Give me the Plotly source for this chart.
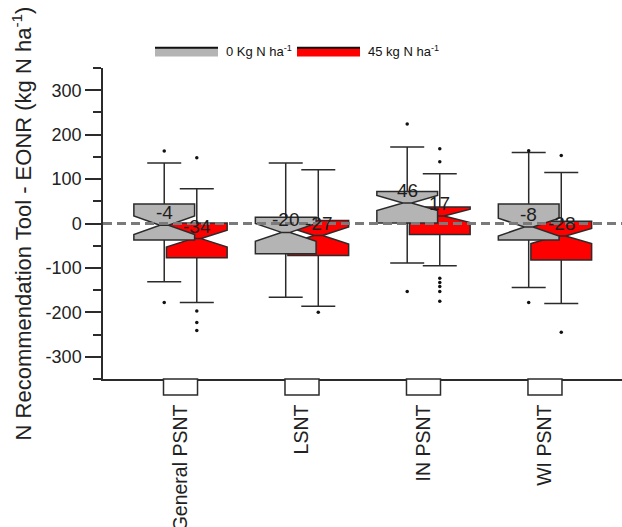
import plotly.graph_objects as go

# ---------------- data ----------------
categories = ["General PSNT", "LSNT", "IN PSNT", "WI PSNT"]
y_ticks = [-300, -200, -100, 0, 100, 200, 300]
y_ticktext = ["-300", "-200", "-100", "0", "100", "200", "300"]

# 0 kg N/ha series (gray)
q1_0 = [-37, -68, 1, -37]
med_0 = [-4, -20, 46, -8]
q3_0 = [44, 14, 72, 44]
low_0 = [-131, -166, -89, -144]
high_0 = [136, 136, 172, 160]
notch_0 = [21, 20, 17, 20]
out_0 = [[163, -178], [], [224, -153], [164, -178]]

# 45 kg N/ha series (red)
q1_45 = [-77, -72, -25, -82]
med_45 = [-34, -27, 17, -28]
q3_45 = [1, 7, 37, 5]
low_45 = [-178, -186, -95, -180]
high_45 = [78, 121, 112, 115]
notch_45 = [19, 19, 15, 17]
out_45 = [[148, -197, -223, -241], [-200], [168, 139, -123, -133, -142, -153, -175], [153, -245]]

name_0 = "0 Kg N ha<sup>-1</sup>"
name_45 = "45 kg N ha<sup>-1</sup>"

# ---------------- styling ----------------
FONT = "Liberation Sans, Arial, sans-serif"
GRAY = "#b4b4b4"
RED = "#ff0000"
EDGE = "#2b2b2b"
OFFSET = 0.134
BOX_W = 0.5

pos = list(range(1, len(categories) + 1))
x0 = [p - OFFSET for p in pos]
x45 = [p + OFFSET for p in pos]

fig = go.Figure()

def add_series(xs, q1, med, q3, lo, hi, notch, outs, color, name):
    fig.add_trace(go.Box(
        x=xs, q1=q1, median=med, q3=q3, lowerfence=lo, upperfence=hi,
        notchspan=notch, notched=True, notchwidth=0.43,
        width=BOX_W, whiskerwidth=0.56,
        fillcolor=color, line=dict(color=EDGE, width=1.5),
        boxpoints=False, name=name, showlegend=False, hoverinfo="skip",
    ))
    ox, oy = [], []
    for xv, vals in zip(xs, outs):
        for v in vals:
            ox.append(xv)
            oy.append(v)
    fig.add_trace(go.Scatter(
        x=ox, y=oy, mode="markers",
        marker=dict(color="#111111", size=3.5),
        showlegend=False, hoverinfo="skip",
    ))

# red drawn first, gray on top (as in reference)
add_series(x45, q1_45, med_45, q3_45, low_45, high_45, notch_45, out_45, RED, name_45)
add_series(x0, q1_0, med_0, q3_0, low_0, high_0, notch_0, out_0, GRAY, name_0)

# median labels
annotations = []
for xs, meds in ((x0, med_0), (x45, med_45)):
    for xv, m in zip(xs, meds):
        annotations.append(dict(
            x=xv, y=m, xref="x", yref="y", text=str(m), showarrow=False,
            yanchor="bottom", xanchor="center",
            font=dict(family=FONT, size=19, color="#1e1e1e"),
        ))

shapes = []
# dashed zero line
shapes.append(dict(type="line", xref="paper", yref="y", x0=0, x1=1, y0=0, y1=0,
                   line=dict(color="#7a7a7a", width=3, dash="9px,5px"), layer="above"))
# small open boxes hanging under the x axis at each category
for p in pos:
    shapes.append(dict(type="rect", xref="x", yref="paper", x0=p - 0.14, x1=p + 0.14,
                       ysizemode="pixel", yanchor=0, y0=-16, y1=0,
                       line=dict(color=EDGE, width=1.5), fillcolor="white", layer="above"))

# custom legend (wide patches with a dark top edge)
PL, PW, PT, PH = 103, 519, 68, 311   # plot left, width, top, height in px
def px_x(px):
    return (px - PL) / PW
def px_y(py):
    return ((PT + PH) - py) / PH

for (left, color, label) in ((155, GRAY, name_0), (297, RED, name_45)):
    shapes.append(dict(type="rect", xref="paper", yref="paper",
                       x0=px_x(left), x1=px_x(left + 63), y0=px_y(56.5), y1=px_y(47.5),
                       line=dict(width=0), fillcolor=color, layer="above"))
    shapes.append(dict(type="line", xref="paper", yref="paper",
                       x0=px_x(left), x1=px_x(left + 63), y0=px_y(47.8), y1=px_y(47.8),
                       line=dict(color="#111111", width=2), layer="above"))
    annotations.append(dict(x=px_x(left + 69), y=px_y(51.5), xref="paper", yref="paper",
                            text=label, showarrow=False, xanchor="left", yanchor="middle",
                            font=dict(family=FONT, size=13, color="#111111")))

fig.update_layout(
    width=622, height=527,
    margin=dict(l=103, r=0, t=68, b=148, autoexpand=False),
    paper_bgcolor="white", plot_bgcolor="white",
    font=dict(family=FONT, color="#222222"),
    showlegend=False,
    shapes=shapes, annotations=annotations,
    xaxis=dict(
        range=[0.362, 4.634], tickmode="array", tickvals=pos, ticktext=categories,
        tickangle=-90, ticks="outside", ticklen=16, tickcolor="rgba(0,0,0,0)",
        tickfont=dict(family=FONT, size=19.5, color="#222222"), automargin=False,
        showline=True, linecolor=EDGE, linewidth=1.5, showgrid=False, zeroline=False,
    ),
    yaxis=dict(
        range=[-350, 350], tickmode="array", tickvals=y_ticks, ticktext=y_ticktext,
        ticks="outside", ticklen=16, tickwidth=1.5, tickcolor=EDGE,
        minor=dict(dtick=50, ticks="outside", ticklen=8, tickwidth=1.5, tickcolor=EDGE),
        tickfont=dict(family=FONT, size=18, color="#222222"), automargin=False,
        showline=True, linecolor=EDGE, linewidth=1.5, showgrid=False, zeroline=False,
        title=dict(text="N Recommendation Tool - EONR (kg N ha<sup>-1</sup>)",
                   font=dict(family=FONT, size=22, color="#222222"), standoff=8),
    ),
)

fig.write_html("out.html", config={"displayModeBar": False},
               post_script="document.body.style.margin='0px';")
